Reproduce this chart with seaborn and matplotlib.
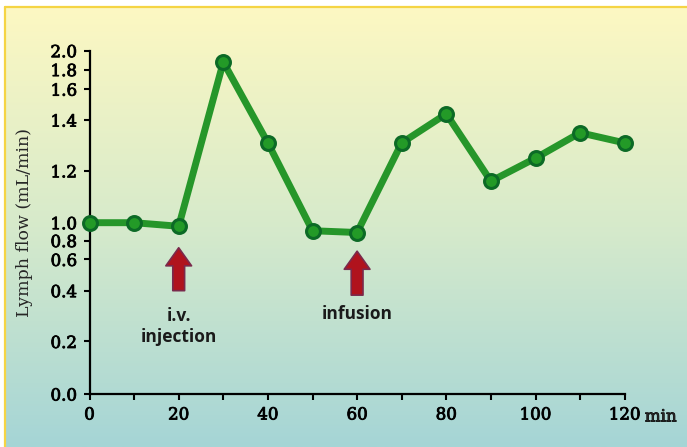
import numpy as np
import matplotlib
matplotlib.use('Agg')
import matplotlib.pyplot as plt
import matplotlib.patheffects as pe
import seaborn as sns
from matplotlib.colors import LinearSegmentedColormap

# data
minutes = [0, 10, 20, 30, 40, 50, 60, 70, 80, 90, 100, 110, 120]
lymph_flow = [1.0, 1.0, 0.96, 1.88, 1.31, 0.91, 0.89, 1.31, 1.44, 1.16, 1.25, 1.35, 1.31]
x_ticks = [0, 20, 40, 60, 80, 100, 120]
x_minor = [10, 30, 50, 70, 90, 110]
y_ticks = [0.0, 0.2, 0.4, 0.6, 0.8, 1.0, 1.2, 1.4, 1.6, 1.8, 2.0]
# the y axis in the original is stretched unevenly: where each tick sits (share of axis height)
y_tick_frac = [0.0, 0.153, 0.301, 0.392, 0.447, 0.499, 0.650, 0.798, 0.888, 0.945, 1.0]
events = ['i.v.\ninjection', 'infusion']
event_times = [20, 60]

sns.set_style('ticks')
plt.rcParams['font.family'] = ['DejaVu Serif']

fig = plt.figure(figsize=(6.87, 4.47), dpi=100)
fig.patch.set_facecolor('white')

# background gradient (pale yellow at top to teal at bottom)
bg = fig.add_axes([5 / 687, 0, 1 - 5 / 687, 1 - 7 / 447], zorder=-10)
cmap = LinearSegmentedColormap.from_list('bg', ['#fdf8c2', '#d6eacb', '#a5d5d6'])
grad = np.linspace(0, 1, 256).reshape(-1, 1)
bg.imshow(grad, aspect='auto', cmap=cmap, extent=[0, 1, 0, 1])
bg.axis('off')
fig.add_artist(plt.Line2D([5 / 687, 5 / 687], [0, 1 - 7 / 447], color='#f5d444', lw=1.6, transform=fig.transFigure))
fig.add_artist(plt.Line2D([5 / 687, 1], [1 - 7 / 447, 1 - 7 / 447], color='#f5d444', lw=1.6, transform=fig.transFigure))

ax = fig.add_axes([89.5 / 687, 53 / 447, 535.2 / 687, 343.3 / 447])
ax.set_facecolor('none')


def fwd(v):
    return np.interp(v, y_ticks, y_tick_frac)


def inv(f):
    return np.interp(f, y_tick_frac, y_ticks)


ax.set_yscale('function', functions=(fwd, inv))

sns.lineplot(x=minutes, y=lymph_flow, ax=ax, color='#26962a', linewidth=5,
             marker='o', markersize=10, markerfacecolor='#239a27',
             markeredgecolor='#0c6a26', markeredgewidth=2.2, clip_on=False, zorder=5)

ax.set_xlim(0, 120)
ax.set_ylim(0, 2.0)
ax.set_xticks(x_ticks)
ax.set_xticks(x_minor, minor=True)
ax.set_yticks(y_ticks)
ax.set_yticklabels([f'{v:.1f}' for v in y_ticks])
ax.yaxis.set_minor_locator(matplotlib.ticker.NullLocator())
ax.tick_params(axis='both', which='both', length=4, width=1.5, color='black',
               labelsize=12, labelcolor='black')
ax.tick_params(axis='y', pad=5)
ax.tick_params(axis='x', pad=5)
heavy = [pe.withStroke(linewidth=0.6, foreground='black')]
for lab in ax.get_xticklabels() + ax.get_yticklabels():
    lab.set_path_effects(heavy)
for side in ['top', 'right']:
    ax.spines[side].set_visible(False)
for side in ['left', 'bottom']:
    ax.spines[side].set_linewidth(1.6)
    ax.spines[side].set_color('black')

ax.set_ylabel('Lymph flow (mL/min)', fontsize=12.5)
ax.yaxis.set_label_coords(-0.105, 0.5)
ax.annotate('min', xy=(120, 0), xycoords=('data', 'axes fraction'),
            xytext=(14.5, -16.5), textcoords='offset points',
            ha='left', va='center', fontsize=12, path_effects=heavy)

# event arrows and labels
arrow_tip = [0.426, 0.416]
arrow_base = [0.301, 0.288]
label_y = [0.197, 0.233]
for name, t, tip, base, ly in zip(events, event_times, arrow_tip, arrow_base, label_y):
    ax.annotate('', xy=(t, tip), xycoords=('data', 'axes fraction'),
                xytext=(t, base), textcoords=('data', 'axes fraction'),
                arrowprops=dict(arrowstyle='simple,head_length=1.3,head_width=1.85,tail_width=0.85',
                                fc='#b0131d', ec='#7a2a4c', lw=1.2, shrinkA=0, shrinkB=0))
    ax.text(t, ly, name, transform=ax.get_xaxis_transform(), ha='center', va='center',
            fontsize=12.5, family=['Open Sans', 'DejaVu Sans'], fontweight='bold',
            linespacing=1.25, color='#1a1a1a')

fig.savefig('out.png', dpi=100)
